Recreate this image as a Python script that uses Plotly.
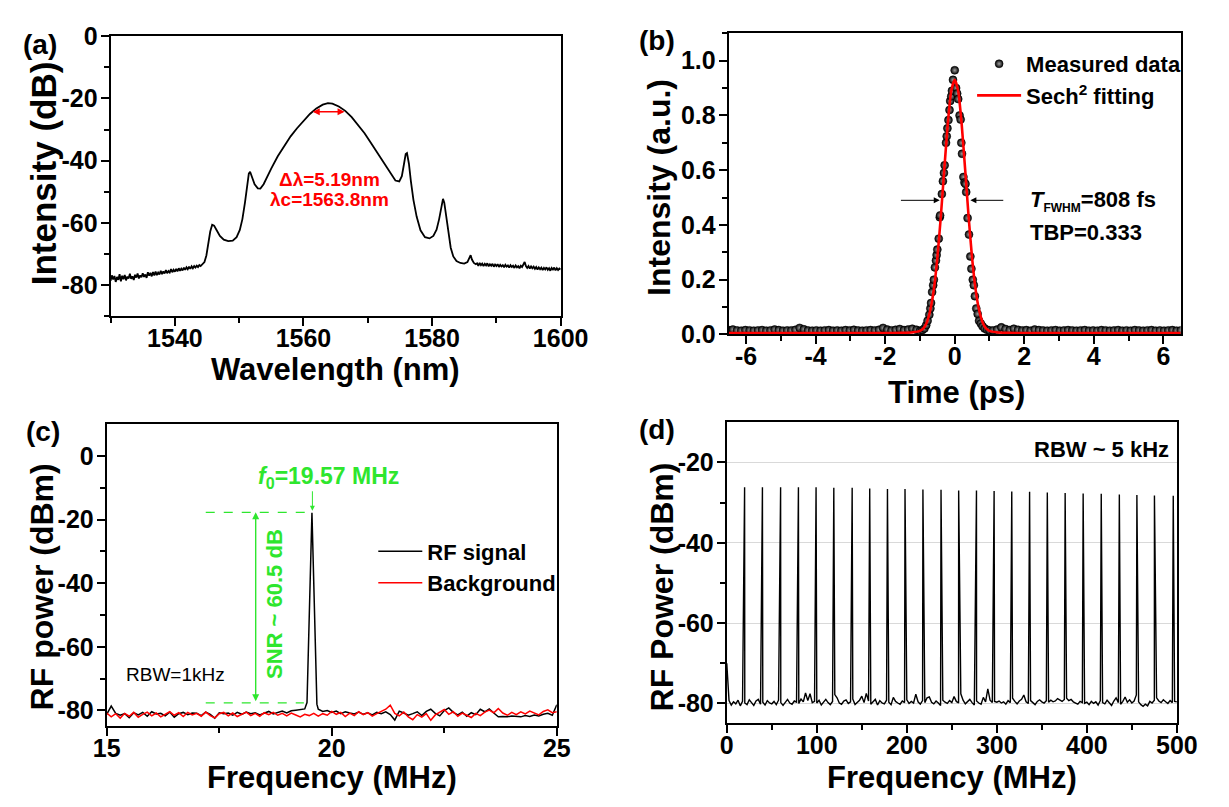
import numpy as np
import plotly.graph_objects as go

W, H = 1229, 807
FONT = "Liberation Sans, Arial, sans-serif"
GREEN = "#2EE62E"

# ---------------- (a) optical spectrum ----------------
a_left_start, a_left_step = 1530.0, 0.2
a_left_db = [-78.6, -76.9, -78.2, -77.1, -79.0, -77.4, -78.3, -76.5, -78.8, -77.0,
             -78.1, -76.8, -78.5, -77.3, -77.9, -76.4, -78.0, -77.2, -78.4, -76.7,
             -77.6, -76.3, -77.9, -76.9, -77.5, -76.2, -77.4, -76.6, -77.7, -75.9,
             -77.0, -76.1, -77.2, -75.8, -76.9, -75.7, -76.8, -76.0, -76.6, -75.4,
             -76.5, -75.6, -76.3, -75.2, -76.2, -75.5, -76.0, -74.9, -75.9, -75.1,
             -75.7, -74.8, -75.6, -74.6, -75.4, -74.7, -75.3, -74.4, -75.1, -74.3,
             -74.9, -74.1, -74.8, -74.0, -74.6, -73.9, -74.4, -73.8, -74.2, -73.6,
             -73.9]
a_mid_wl = [1544.3, 1544.6, 1544.9, 1545.2, 1545.5, 1545.8, 1546.1, 1546.5, 1547.0, 1547.6,
            1548.3, 1549.0, 1549.6, 1550.1, 1550.5, 1550.9, 1551.2, 1551.5, 1551.7, 1552.0,
            1552.4, 1552.9, 1553.3, 1553.8, 1554.4, 1555.0, 1556.0, 1557.0, 1558.0, 1559.0,
            1560.0, 1561.0, 1562.0, 1563.0, 1563.8, 1564.5, 1565.5, 1566.5, 1567.5, 1568.5,
            1569.5, 1570.5, 1571.5, 1572.5, 1573.5, 1574.3, 1574.9, 1575.3, 1575.6, 1575.9,
            1576.1, 1576.4, 1576.7, 1577.1, 1577.6, 1578.2, 1578.9, 1579.6, 1580.2, 1580.7,
            1581.1, 1581.4, 1581.7, 1581.9, 1582.2, 1582.5, 1582.9, 1583.3, 1583.8, 1584.4,
            1585.0, 1585.5, 1585.8, 1586.0, 1586.2, 1586.5, 1586.8]
a_mid_db = [-73.4, -72.6, -70.5, -66.5, -62.8, -60.6, -60.9, -62.4, -64.2, -65.4,
            -65.9, -65.7, -64.6, -62.3, -58.8, -53.5, -48.0, -44.2, -43.6, -45.4,
            -47.6, -48.9, -49.0, -47.6, -45.3, -42.5, -38.6, -35.2, -32.2, -29.6,
            -27.2, -25.0, -23.2, -22.0, -21.5, -21.7, -22.6, -24.0, -26.0, -28.5,
            -31.2, -34.3, -37.5, -40.7, -44.0, -46.4, -46.7, -45.0, -41.5, -37.9,
            -37.6, -41.0, -46.5, -52.6, -58.0, -62.4, -64.6, -65.0, -64.2, -62.2,
            -58.8, -55.0, -52.3, -53.5, -58.0, -63.5, -68.0, -70.8, -72.3, -72.9,
            -73.1, -72.6, -71.3, -70.4, -71.8, -72.9, -73.3]
a_right_start, a_right_step = 1587.0, 0.2
a_right_db = [-73.0, -73.8, -72.9, -73.6, -73.1, -73.9, -73.2, -73.7, -73.0, -74.0,
              -73.3, -73.8, -73.2, -74.1, -73.4, -73.9, -73.3, -74.2, -73.5, -74.0,
              -73.6, -74.3, -73.5, -74.1, -73.7, -74.4, -73.6, -74.2, -73.8, -74.5,
              -73.7, -74.3, -73.9, -74.6, -73.8, -74.2, -73.4, -72.6, -73.9, -74.5,
              -73.9, -74.7, -74.0, -74.6, -74.1, -74.8, -74.2, -75.0, -74.3, -74.9,
              -74.4, -75.2, -74.5, -75.0, -74.3, -75.1, -74.6, -75.4, -74.5, -75.0,
              -74.4, -75.3, -74.6, -75.2, -74.7, -75.0]
center_wl = 1563.8
fwhm_nm = 5.19
a_xticks = [1540, 1560, 1580, 1600]
a_yticks = [-80, -60, -40, -20, 0]

# ---------------- (b) autocorrelation ----------------
b_left_start, b_step = -6.5, 0.12
b_left_y = [0.016, 0.018, 0.015, 0.014, 0.016, 0.015, 0.014, 0.015, 0.016, 0.014,
            0.015, 0.018, 0.016, 0.014, 0.015, 0.015, 0.017, 0.024, 0.019, 0.015,
            0.014, 0.015, 0.014, 0.015, 0.016, 0.014, 0.015, 0.014, 0.016, 0.015,
            0.017, 0.015, 0.014, 0.015, 0.016, 0.015, 0.017, 0.024, 0.018, 0.015,
            0.017, 0.020, 0.016, 0.018, 0.021, 0.017]
b_pulse_t = [-1.00, -0.93, -0.87, -0.82, -0.78, -0.73, -0.70, -0.68, -0.65, -0.62,
             -0.60, -0.57, -0.54, -0.52, -0.50, -0.46, -0.43, -0.42, -0.37, -0.34,
             -0.31, -0.29, -0.25, -0.23, -0.21, -0.18, -0.15, -0.13, -0.10, -0.08,
             -0.05, 0.00, 0.04, 0.07, 0.10, 0.14, 0.17, 0.19, 0.21, 0.25,
             0.28, 0.31, 0.33, 0.37, 0.41, 0.45, 0.48, 0.52, 0.55, 0.58,
             0.62, 0.66, 0.70, 0.75, 0.80, 0.86, 0.93, 1.00]
b_pulse_y = [0.013, 0.016, 0.022, 0.034, 0.050, 0.072, 0.095, 0.115, 0.155, 0.180,
             0.200, 0.245, 0.270, 0.290, 0.310, 0.350, 0.428, 0.435, 0.513, 0.560,
             0.590, 0.618, 0.700, 0.724, 0.753, 0.783, 0.820, 0.853, 0.870, 0.890,
             0.930, 0.965, 0.900, 0.880, 0.860, 0.800, 0.785, 0.700, 0.660, 0.575,
             0.555, 0.550, 0.520, 0.425, 0.365, 0.285, 0.240, 0.200, 0.180, 0.140,
             0.095, 0.075, 0.050, 0.040, 0.030, 0.022, 0.017, 0.015]
b_right_start = 1.1
b_right_y = [0.015, 0.018, 0.026, 0.020, 0.016, 0.021, 0.017, 0.015, 0.016, 0.014,
             0.018, 0.016, 0.015, 0.014, 0.015, 0.016, 0.014, 0.015, 0.016, 0.015,
             0.014, 0.015, 0.016, 0.014, 0.015, 0.014, 0.016, 0.015, 0.014, 0.015,
             0.016, 0.014, 0.015, 0.014, 0.016, 0.015, 0.014, 0.015, 0.016, 0.014,
             0.015, 0.014, 0.015, 0.016, 0.014, 0.015]
b_fit_t = [-6.5, -2.0, -1.5, -1.2, -1.0, -0.9, -0.8, -0.7, -0.6, -0.5, -0.4, -0.3, -0.2, -0.1, 0.0,
           0.1, 0.2, 0.3, 0.4, 0.5, 0.6, 0.7, 0.8, 0.9, 1.0, 1.2, 1.5, 2.0, 6.5]
b_fit_y = [0.005, 0.005, 0.006, 0.008, 0.013, 0.022, 0.045, 0.090, 0.165, 0.279, 0.430, 0.603, 0.768, 0.889, 0.930,
           0.889, 0.768, 0.603, 0.430, 0.279, 0.165, 0.090, 0.045, 0.022, 0.013, 0.008, 0.006, 0.005, 0.005]
b_fwhm_marks = [-0.43, 0.45]
b_xticks = [-6, -4, -2, 0, 2, 4, 6]
b_yticks = [0.0, 0.2, 0.4, 0.6, 0.8, 1.0]

# ---------------- (c) RF spectrum, narrow span ----------------
c_start, c_step = 15.0, 0.1
c_bg_db = [-80.8, -82.0, -81.0, -82.4, -80.9, -81.8, -80.6, -82.1, -81.2, -80.5,
           -81.7, -80.8, -82.0, -81.1, -80.4, -81.5, -80.7, -81.9, -80.6, -81.4,
           -80.9, -81.8, -80.5, -81.6, -82.3, -81.0, -80.6, -81.7, -80.8, -81.9,
           -81.1, -80.5, -81.6, -80.9, -81.8, -80.7, -81.3, -80.6, -81.5, -80.9,
           -81.7, -80.8, -81.4, -82.0, -81.2, -81.6, -80.9, -81.8, -81.0, -81.5,
           -80.3, -81.2, -80.6, -81.9, -80.8, -81.6, -80.4, -81.3, -80.7, -81.8,
           -81.0, -80.2, -79.6, -78.3, -80.9, -81.7, -80.5, -82.0, -82.9, -81.3,
           -82.1, -81.0, -83.1, -81.4, -80.6, -79.7, -81.2, -80.4, -81.8, -80.8,
           -81.5, -82.2, -80.9, -81.6, -80.5, -79.9, -80.7, -79.4, -80.8, -81.5,
           -80.6, -81.3, -80.4, -81.1, -80.2, -80.9, -81.4, -80.3, -79.8, -80.7,
           -80.4]
c_sig_left_db = [-81.2, -78.6, -80.9, -81.5, -81.0, -82.3, -80.7, -81.4, -80.6, -81.8,
                 -80.4, -81.1, -80.9, -81.7, -80.5, -82.1, -81.0, -80.6, -81.3, -80.8,
                 -80.9, -81.6, -80.5, -81.2, -82.4, -80.7, -81.0, -80.8, -81.5, -80.6,
                 -81.2, -80.5, -81.0, -80.7, -81.4, -80.9, -80.3, -81.1, -80.6, -80.2,
                 -80.8, -80.1, -79.9, -79.7, -79.5]
c_peak_f = [19.45, 19.56, 19.67]
c_peak_db = [-77.5, -17.8, -78.0]
c_right_start = 19.7
c_sig_right_db = [-79.6, -80.3, -80.0,
                  -80.6, -80.2, -81.0, -80.4, -80.8, -81.1, -80.5, -81.2, -80.7, -81.4,
                  -80.6, -81.0, -80.4, -81.3, -83.0, -80.2, -80.8, -81.5, -81.0, -80.4,
                  -81.6, -80.3, -79.6, -80.9, -81.7, -80.0, -79.2, -80.6, -81.4, -80.5,
                  -81.8, -80.7, -81.3, -79.6, -80.4, -79.5, -80.8, -82.0, -81.9, -82.0,
                  -81.7, -81.8, -82.0, -81.6, -81.9, -81.4, -81.7, -81.2, -80.9, -81.5,
                  -78.2]
f0 = 19.57
snr_top, snr_bottom = -17.7, -77.6
c_xticks = [15, 20, 25]
c_yticks = [-80, -60, -40, -20, 0]

# ---------------- (d) RF spectrum, wide span ----------------
d_floor_step = 2.5
d_floor_db = [-70.0, -79.3, -80.4, -79.6, -80.1, -79.2, -80.6, -79.5, -79.9, -80.3,
              -79.1, -79.8, -80.5, -79.4, -79.0, -80.2, -79.7, -80.4, -79.3, -79.9,
              -80.1, -79.5, -80.3, -79.2, -79.8, -80.5, -79.6, -79.0, -79.9, -80.2,
              -79.4, -79.7, -80.0, -78.9, -79.6, -77.4, -79.3, -77.6, -79.8, -79.5,
              -79.9, -79.2, -80.4, -79.6, -79.0, -79.8, -80.3, -79.5, -77.8, -78.6,
              -79.9, -80.2, -79.4, -79.1, -80.0, -79.6, -78.9, -80.3, -79.7, -79.2,
              -78.2, -79.8, -77.5, -79.4, -80.2, -79.6, -79.0, -80.4, -79.3, -79.9,
              -80.1, -79.2, -79.7, -80.3, -78.5, -79.5, -79.9, -80.2, -79.4, -79.8,
              -79.1, -80.0, -79.5, -79.9, -77.7, -79.6, -80.2, -79.3, -79.8, -78.6,
              -78.4, -79.7, -80.1, -79.4, -79.9, -80.5, -79.2, -79.7, -80.0, -79.3,
              -79.8, -78.3, -79.5, -79.9, -77.6, -79.2, -80.1, -79.6, -79.0, -79.8,
              -80.4, -79.4, -79.9, -80.2, -78.5, -79.6, -76.4, -79.2, -79.8, -79.5,
              -79.7, -79.4, -79.9, -79.6, -80.2, -79.3, -79.8, -78.7, -79.5, -80.1,
              -79.4, -79.0, -77.9, -79.6, -80.0, -79.3, -79.8, -80.3, -79.5, -79.1,
              -79.6, -79.9, -79.3, -79.7, -79.2, -79.6, -79.4, -78.8, -79.1, -79.5,
              -79.0, -78.7, -79.3, -79.0, -79.6, -79.9, -80.2, -79.5, -79.8, -80.0,
              -79.7, -80.3, -79.5, -80.0, -79.6, -80.4, -79.3, -79.8, -80.1, -79.2,
              -79.9, -80.5, -79.4, -78.6, -79.8, -80.2, -79.5, -78.4, -79.7, -79.1,
              -79.9, -79.4, -77.9, -79.6, -80.3, -80.7, -80.2, -80.6, -79.5, -79.9,
              -79.2, -78.6, -79.4, -79.8, -79.1, -79.6, -80.0, -79.3, -79.8, -79.5,
              -79.6]
d_peak_f = [19.8, 39.6, 59.8, 79.6, 99.2, 118.9, 139.3, 158.8, 178.5, 198.0,
            217.9, 238.0, 257.6, 277.4, 297.0, 316.6, 336.4, 356.1, 375.9, 395.9,
            416.0, 436.1, 455.6, 475.1, 496.0]
d_peak_db = [-26.2, -26.2, -26.2, -26.2, -26.2, -26.3, -26.3, -26.5, -26.6, -26.6,
             -26.7, -26.8, -27.0, -27.0, -27.1, -27.2, -27.3, -27.5, -27.6, -27.7,
             -27.8, -28.0, -28.1, -28.2, -28.3]
d_xticks = [0, 100, 200, 300, 400, 500]
d_yticks = [-80, -60, -40, -20]

# ---------------- helpers ----------------
def px(x):
    return x / W


def py(y):
    return 1 - y / H


def grid(start, step, n):
    return np.round(start + step * np.arange(n), 3)


def axis(domain, rng, tickvals, ticktext, minor_vals, anchor, standoff, **kw):
    d = dict(domain=domain, range=rng, anchor=anchor,
             showline=True, linewidth=2, linecolor="black", mirror=True,
             ticks="outside", ticklen=8, tickwidth=2, tickcolor="black",
             tickmode="array", tickvals=tickvals, ticktext=ticktext,
             tickfont=dict(family=FONT, size=25, color="black", weight="bold"),
             ticklabelstandoff=standoff,
             minor=dict(tickmode="array", tickvals=minor_vals, ticks="outside",
                        ticklen=5, tickwidth=2, tickcolor="black"),
             showgrid=False, zeroline=False, fixedrange=True)
    d.update(kw)
    return d


XS, YS = -9, -2

fig = go.Figure()

# (a)
a_wl = np.concatenate([grid(a_left_start, a_left_step, len(a_left_db)), a_mid_wl,
                       grid(a_right_start, a_right_step, len(a_right_db))])
a_db = np.concatenate([a_left_db, a_mid_db, a_right_db])
fig.add_trace(go.Scatter(x=a_wl, y=a_db, mode="lines", line=dict(color="black", width=1.8),
                         showlegend=False, xaxis="x", yaxis="y"))

# (b)
b_t = np.concatenate([grid(b_left_start, b_step, len(b_left_y)), b_pulse_t,
                      grid(b_right_start, b_step, len(b_right_y))])
b_y = np.concatenate([b_left_y, b_pulse_y, b_right_y])
fig.add_trace(go.Scatter(x=b_t, y=b_y, mode="markers", name="Measured data",
                         marker=dict(size=8, color="#000000",
                                     gradient=dict(type="radial", color="#a0a0a0"),
                                     line=dict(width=0.5, color="#000000")),
                         xaxis="x2", yaxis="y2", legend="legend"))
fig.add_trace(go.Scatter(x=b_fit_t, y=b_fit_y, mode="lines", name="Sech<sup>2</sup> fitting",
                         line=dict(color="#ff0000", width=2.6, shape="spline", smoothing=0.6),
                         xaxis="x2", yaxis="y2", legend="legend"))

# (c)
c_sig_f = np.concatenate([grid(c_start, c_step, len(c_sig_left_db)), c_peak_f,
                          grid(c_right_start, c_step, len(c_sig_right_db))])
c_sig_db = np.concatenate([c_sig_left_db, c_peak_db, c_sig_right_db])
fig.add_trace(go.Scatter(x=c_sig_f, y=c_sig_db, mode="lines", name="RF signal",
                         line=dict(color="black", width=1.5), xaxis="x3", yaxis="y3",
                         legend="legend2"))
fig.add_trace(go.Scatter(x=grid(c_start, c_step, len(c_bg_db)), y=c_bg_db, mode="lines",
                         name="Background", line=dict(color="#ff0000", width=1.5),
                         xaxis="x3", yaxis="y3", legend="legend2"))

# (d)
d_f = np.concatenate([grid(0, d_floor_step, len(d_floor_db)), d_peak_f])
d_db = np.concatenate([d_floor_db, d_peak_db])
order = np.argsort(d_f, kind="stable")
fig.add_trace(go.Scatter(x=d_f[order], y=d_db[order], mode="lines",
                         line=dict(color="black", width=1.4), showlegend=False,
                         xaxis="x4", yaxis="y4"))

layout_axes = dict(
    xaxis=axis([px(100), px(566)], [1530, 1600], a_xticks, [str(v) for v in a_xticks],
               [1530, 1550, 1570, 1590], "y", XS),
    yaxis=axis([py(313), py(23)], [-90, 0], a_yticks, [str(v) for v in a_yticks],
               [-90, -70, -50, -30, -10], "x", YS),
    xaxis2=axis([px(740), px(1208)], [-6.5, 6.5], b_xticks, [str(v) for v in b_xticks],
                [-5, -3, -1, 1, 3, 5], "y2", XS),
    yaxis2=axis([py(332), py(20)], [0, 1.1], b_yticks, [f"{v:.1f}" for v in b_yticks],
                [0.1, 0.3, 0.5, 0.7, 0.9, 1.1], "x2", YS),
    xaxis3=axis([px(96), px(562)], [15, 25], c_xticks, [str(v) for v in c_xticks],
                [17.5, 22.5], "y3", XS),
    yaxis3=axis([py(738), py(425)], [-85, 10], c_yticks, [str(v) for v in c_yticks],
                [-70, -50, -30, -10], "x3", YS),
    xaxis4=axis([px(738), px(1204)], [0, 500], d_xticks, [str(v) for v in d_xticks],
                [50, 150, 250, 350, 450], "y4", XS),
    yaxis4=axis([py(735), py(423)], [-85, -10], d_yticks, [str(v) for v in d_yticks],
                [-70, -50, -30], "x4", YS, showgrid=True, gridcolor="#d9d9d9", gridwidth=1),
)


def ptext(text, x, y, size, angle=0, color="black", weight="bold"):
    return dict(text=text, x=px(x), y=py(y), xref="paper", yref="paper",
                xanchor="center", yanchor="middle", showarrow=False, textangle=angle,
                font=dict(family=FONT, size=size, color=color, weight=weight))


annotations = [
    ptext("(a)", 27, 32, 28), ptext("(b)", 666, 27, 28),
    ptext("(c)", 30, 432, 28), ptext("(d)", 666, 430, 28),
    ptext("Intensity (dB)", 30, 165, 35, -90), ptext("Wavelength (nm)", 333, 368, 31),
    ptext("Intensity (a.u.)", 668, 180, 32, -90), ptext("Time (ps)", 976, 392, 31),
    ptext("RF power (dBm)", 29, 594, 32, -90), ptext("Frequency (MHz)", 329, 791, 31),
    ptext("RF Power (dBm)", 671, 594, 32, -90), ptext("Frequency (MHz)", 971, 791, 31),
]

# (a) annotations
annotations += [
    dict(x=center_wl + fwhm_nm / 2, y=-24.3, ax=center_wl - fwhm_nm / 2, ay=-24.3,
         xref="x", yref="y", axref="x", ayref="y", text="", showarrow=True,
         arrowhead=2, arrowside="end+start", arrowsize=1, arrowwidth=1.4, arrowcolor="#ff0000"),
    dict(x=1564.1, y=-46.2, xref="x", yref="y", showarrow=False, text="Δλ=5.19nm",
         font=dict(family=FONT, size=19, color="#ff0000", weight="bold")),
    dict(x=1564.0, y=-52.6, xref="x", yref="y", showarrow=False, text="λc=1563.8nm",
         font=dict(family=FONT, size=19, color="#ff0000", weight="bold")),
]

# (b) annotations
annotations += [
    dict(x=b_fwhm_marks[0], y=0.49, ax=-1.59, ay=0.49, xref="x2", yref="y2", axref="x2",
         ayref="y2", text="", showarrow=True, arrowhead=2, arrowsize=1.2, arrowwidth=1,
         arrowcolor="black"),
    dict(x=b_fwhm_marks[1], y=0.49, ax=1.44, ay=0.49, xref="x2", yref="y2", axref="x2",
         ayref="y2", text="", showarrow=True, arrowhead=2, arrowsize=1.2, arrowwidth=1,
         arrowcolor="black"),
    dict(x=2.1, y=0.489, xref="x2", yref="y2", xanchor="left", showarrow=False,
         text="<i>T</i><sub><span style='font-size:12px'>FWHM</span></sub>=808 fs",
         font=dict(family=FONT, size=22, color="black", weight="bold")),
    dict(x=2.1, y=0.372, xref="x2", yref="y2", xanchor="left", showarrow=False,
         text="TBP=0.333", font=dict(family=FONT, size=22, color="black", weight="bold")),
]

# (c) annotations
annotations += [
    dict(x=18.31, y=snr_top, ax=18.31, ay=snr_bottom, xref="x3", yref="y3", axref="x3",
         ayref="y3", text="", showarrow=True, arrowhead=2, arrowside="end+start",
         arrowsize=1, arrowwidth=1.4, arrowcolor=GREEN),
    dict(x=f0, y=-17.2, ax=f0, ay=-10.6, xref="x3", yref="y3", axref="x3", ayref="y3",
         text="", showarrow=True, arrowhead=2, arrowsize=1, arrowwidth=1, arrowcolor=GREEN),
    dict(x=18.74, y=-46.5, xref="x3", yref="y3", showarrow=False, textangle=-90,
         text="SNR ~ 60.5 dB", font=dict(family=FONT, size=22, color=GREEN, weight="bold")),
    dict(x=19.92, y=-6.6, xref="x3", yref="y3", showarrow=False,
         text="<i>f</i><sub>0</sub>=19.57 MHz",
         font=dict(family=FONT, size=23, color=GREEN, weight="bold")),
    dict(x=16.52, y=-68.8, xref="x3", yref="y3", showarrow=False, text="RBW=1kHz",
         font=dict(family=FONT, size=19, color="black", weight="normal")),
]

# (d) annotation
annotations += [
    dict(x=494, y=-16.7, xref="x4", yref="y4", xanchor="right", showarrow=False,
         text="RBW ~ 5 kHz", font=dict(family=FONT, size=22, color="black", weight="bold")),
]

shapes = [
    dict(type="line", xref="x3", yref="y3", x0=17.2, x1=19.56, y0=snr_top, y1=snr_top,
         line=dict(color=GREEN, width=1.4, dash="dash")),
    dict(type="line", xref="x3", yref="y3", x0=17.2, x1=19.38, y0=snr_bottom, y1=snr_bottom,
         line=dict(color=GREEN, width=1.4, dash="dash")),
]

fig.update_layout(
    width=W, height=H, autosize=False,
    margin=dict(l=0, r=0, t=0, b=0),
    paper_bgcolor="white", plot_bgcolor="white",
    font=dict(family=FONT, color="black"),
    annotations=annotations, shapes=shapes,
    legend=dict(x=px(992), y=py(30), xanchor="left", yanchor="top",
                bgcolor="rgba(0,0,0,0)", borderwidth=0, itemwidth=44,
                font=dict(family=FONT, size=22, color="black", weight="bold"),
                tracegroupgap=0),
    legend2=dict(x=px(372), y=py(535), xanchor="left", yanchor="top",
                 bgcolor="rgba(0,0,0,0)", borderwidth=0, itemwidth=44,
                 font=dict(family=FONT, size=22, color="black", weight="bold"),
                 tracegroupgap=0),
    **layout_axes,
)

fig.write_html("out.html", config={"displayModeBar": False},
               post_script="document.body.style.margin='0px';")
